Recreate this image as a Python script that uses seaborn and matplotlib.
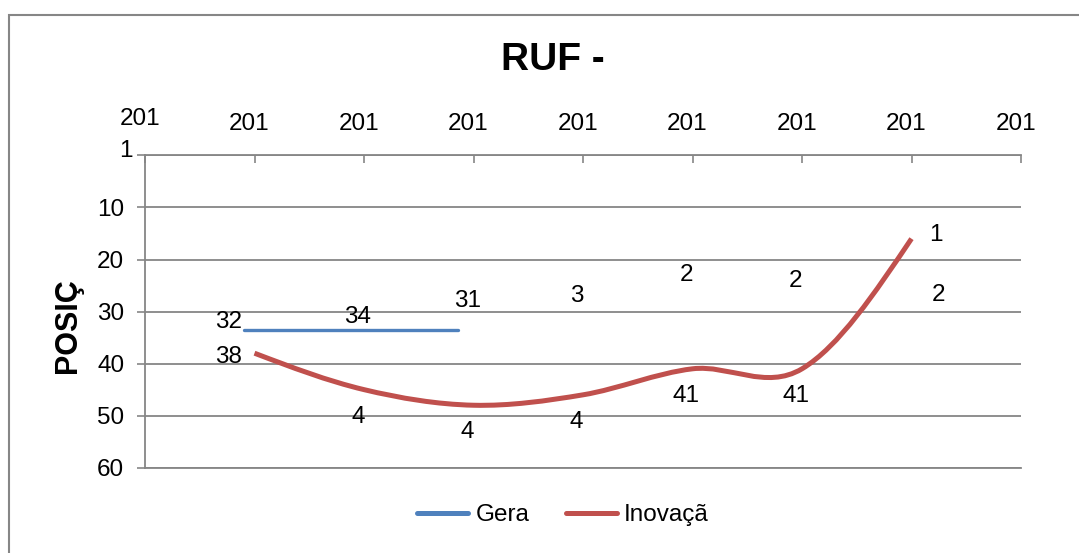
import numpy as np
import pandas as pd
import matplotlib
matplotlib.use("Agg")
import matplotlib.pyplot as plt
import matplotlib.transforms as mtransforms
from matplotlib.patches import Rectangle, PathPatch
from matplotlib.path import Path
from matplotlib.lines import Line2D
import seaborn as sns

# ---- data ----
positions = [1, 2, 3, 4, 5, 6, 7]
inovacao = [38, 45, 48, 46, 41, 41, 16]
inovacao_labels = ["38", "4", "4", "4", "41", "41", "1"]
gera = [32, 34, 31, 30, 26, 27, 27]
gera_labels = ["32", "34", "31", "3", "2", "2", "2"]
# the blue line in the reference is only a short flat stroke
gera_line_pos = [0.9, 2.86]
gera_line_val = [33.6, 33.6]
x_ticks = [0, 1, 2, 3, 4, 5, 6, 7, 8]
x_tick_labels = ["201"] * 9
y_ticks = [0, 10, 20, 30, 40, 50, 60]
y_tick_labels = ["1", "10", "20", "30", "40", "50", "60"]

BLUE = "#4F81BD"
RED = "#C0504D"
GRID = "#868686"

sns.set_theme(style="white")
plt.rcParams["font.family"] = ["Liberation Sans", "DejaVu Sans"]
plt.rcParams["text.color"] = "black"
plt.rcParams["xtick.color"] = "black"
plt.rcParams["ytick.color"] = "black"

W, H = 1079, 553
fig = plt.figure(figsize=(W / 100, H / 100), dpi=100)
ax = fig.add_axes([145 / W, 1 - 467.7 / H, 876 / W, (467.7 - 155.4) / H])

# outer chart border
fig.patches.append(Rectangle((9 / W, -0.1), 1.2, 1 - 15 / H + 0.1,
                             transform=fig.transFigure, fill=False,
                             edgecolor=GRID, lw=1.5))


def smooth_path(xs, ys):
    # Excel-like smoothed line: Catmull-Rom tangents, natural end tangents,
    # drawn as cubic Bezier segments
    xs = np.asarray(xs, float)
    ys = np.asarray(ys, float)
    n = len(ys)
    m = np.zeros(n)
    for i in range(1, n - 1):
        m[i] = (ys[i + 1] - ys[i - 1]) / 2
    m[0] = (3 * (ys[1] - ys[0]) - m[1]) / 2
    m[-1] = (3 * (ys[-1] - ys[-2]) - m[-2]) / 2
    verts = [(xs[0], ys[0])]
    codes = [Path.MOVETO]
    for i in range(n - 1):
        dx = xs[i + 1] - xs[i]
        verts += [(xs[i] + dx / 3, ys[i] + m[i] * dx / 3),
                  (xs[i + 1] - dx / 3, ys[i + 1] - m[i + 1] * dx / 3),
                  (xs[i + 1], ys[i + 1])]
        codes += [Path.CURVE4] * 3
    return Path(verts, codes)


# Gera line
df_gera = pd.DataFrame({"pos": gera_line_pos, "val": gera_line_val})
sns.lineplot(data=df_gera, x="pos", y="val", color=BLUE, lw=2.4, ax=ax)

# Inovação smoothed line
ax.add_patch(PathPatch(smooth_path(positions, inovacao), facecolor="none",
                       edgecolor=RED, lw=3.6, capstyle="butt", zorder=3))

ax.set_xlim(0, 8)
ax.set_ylim(60, 0)
ax.set_xlabel("")
ax.set_ylabel("")

# axes styling
ax.xaxis.tick_top()
ax.set_xticks(x_ticks)
ax.set_xticklabels(x_tick_labels)
ax.set_yticks(y_ticks)
ax.set_yticklabels(y_tick_labels)
ax.tick_params(axis="x", direction="in", length=6, width=1.2, color=GRID,
               labelcolor="black", labelsize=17.5, pad=15, top=True, bottom=False)
ax.tick_params(axis="y", direction="out", length=6, width=1.2, color=GRID,
               labelcolor="black", labelsize=17.5, pad=9, left=True)
ax.yaxis.grid(True, color=GRID, lw=1.3)
ax.xaxis.grid(False)
for side in ["left", "top", "bottom"]:
    ax.spines[side].set_visible(True)
    ax.spines[side].set_color(GRID)
    ax.spines[side].set_linewidth(1.3)
ax.spines["right"].set_visible(False)

# truncated labels sit slightly left of their tick
for i, lab in enumerate(ax.get_xticklabels()):
    dy = 3 / 72 if i == 0 else 0
    lab.set_transform(lab.get_transform() +
                      mtransforms.ScaledTranslation(-5 / 100, dy, fig.dpi_scale_trans))
first_y = ax.get_yticklabels()[0]
first_y.set_transform(first_y.get_transform() +
                      mtransforms.ScaledTranslation(8 / 100, 7 / 100, fig.dpi_scale_trans))

# data labels
for i, (p, v, t) in enumerate(zip(positions, inovacao, inovacao_labels)):
    if i == 0:
        off = (-19, -3)
    elif i == len(positions) - 1:
        off = (17.5, 3)
    else:
        off = (-4.5, -19.5)
    ax.annotate(t, (p, v), xytext=off, textcoords="offset points",
                ha="center", va="center", fontsize=17.5, color="black")

for i, (p, v, t) in enumerate(zip(positions, gera, gera_labels)):
    if i == 0:
        off = (-19, 0)
    elif i == len(positions) - 1:
        off = (19.5, 1)
    else:
        off = (-4.5, 11)
    ax.annotate(t, (p, v), xytext=off, textcoords="offset points",
                ha="center", va="center", fontsize=17.5, color="black")

# title and axis title
fig.text(553 / W, 1 - 60 / H, "RUF -", fontsize=28, fontweight="bold",
         ha="center", va="center", color="black")
fig.text(68 / W, 1 - 326 / H, "POSIÇ", fontsize=22, fontweight="bold",
         rotation=90, ha="center", va="center", color="black")

# legend
handles = [Line2D([], [], color=BLUE, lw=3.6), Line2D([], [], color=RED, lw=3.6)]
fig.legend(handles, ["Gera", "Inovaçã"], loc="center",
           bbox_to_anchor=(563 / W, 1 - 515 / H), ncol=2, frameon=False,
           fontsize=17.5, handlelength=2.1, handletextpad=0.3,
           columnspacing=1.5, labelcolor="black")

fig.savefig("out.png", dpi=100)
plt.close(fig)
